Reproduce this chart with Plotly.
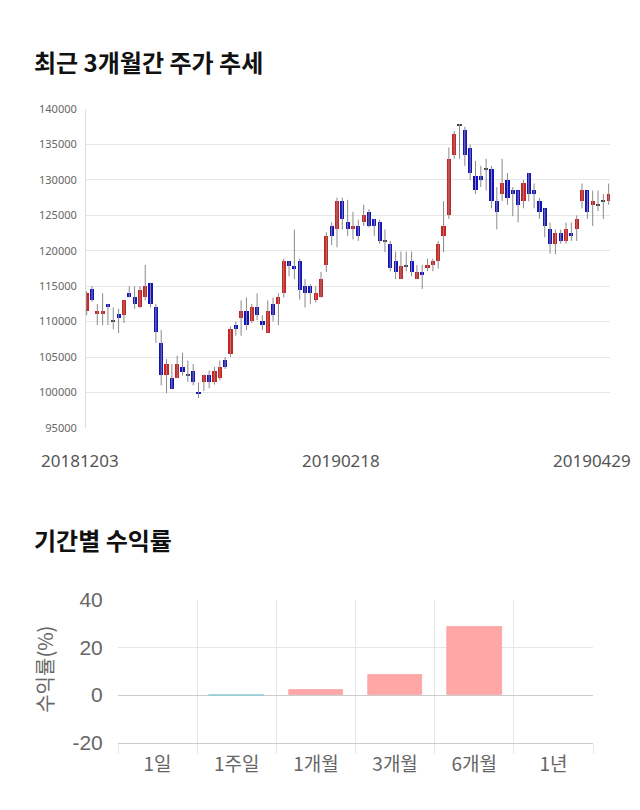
import plotly.graph_objects as go

# ---------------- data: daily candles ----------------
opens = [111500, 114600, 111000, 111000, 112500, 110000, 111000, 110900, 114000, 113500,
         112000, 113500, 115500, 112000, 107000, 102500, 102000, 102000, 103500, 102500,
         103000, 100100, 101400, 102500, 101500, 102000, 104500, 105400, 109500, 110500,
         111500, 110000, 112000, 110000, 108400, 112500, 112400, 114000, 118500, 117900,
         118500, 115000, 115000, 113000, 113400, 118000, 123500, 123000, 127000, 124000,
         123000, 123500, 124000, 125500, 124500, 124000, 121400, 121000, 118500, 116000,
         117900, 118500, 116000, 117000, 117500, 118000, 118500, 122000, 125000, 133500,
         137700, 137000, 134500, 130500, 130500, 131500, 131500, 127000, 128000, 130000,
         128500, 128500, 127000, 131000, 128500, 127000, 126000, 123000, 121000, 122500,
         121400, 122500, 123000, 127000, 128500, 126500, 126500, 127000, 127000]
highs = [114300, 115000, 112500, 114000, 112500, 112000, 111800, 113000, 115000, 115000,
         115000, 118000, 115500, 112500, 108800, 104700, 104000, 105200, 105600, 104500,
         104000, 101400, 102500, 103100, 103600, 104500, 105000, 109300, 110000, 113000,
         113400, 112500, 114000, 110900, 113000, 113400, 114000, 118900, 118500, 123000,
         118900, 116000, 115300, 115000, 117000, 122600, 124000, 127500, 127500, 127200,
         125500, 124400, 126500, 125900, 124500, 124400, 123000, 121400, 119900, 119900,
         119900, 119900, 118000, 118000, 118900, 118900, 121400, 127000, 134600, 136900,
         137900, 137500, 135000, 132700, 132000, 133000, 132000, 129000, 133000, 131000,
         129000, 128500, 130000, 131000, 129500, 127500, 126000, 124000, 123000, 123000,
         124000, 124000, 125000, 129500, 128500, 128500, 128500, 128000, 129500]
lows = [110900, 112800, 109500, 109500, 109500, 108900, 108400, 109800, 113400, 111800,
        111900, 113000, 112000, 107000, 101000, 99900, 100500, 102000, 102400, 101500,
        101000, 99200, 100200, 100600, 101100, 101700, 103300, 105000, 108000, 108000,
        108800, 109800, 110200, 108800, 108400, 110000, 109500, 113400, 116400, 116000,
        113100, 112000, 112500, 112700, 113400, 117000, 120800, 120500, 123000, 122100,
        121600, 121400, 123500, 123300, 122100, 121000, 119800, 117100, 116000, 116000,
        117100, 116400, 116000, 114600, 117100, 117100, 117500, 119800, 124500, 133000,
        133000, 132000, 130000, 128000, 129000, 128500, 126000, 123000, 127000, 126500,
        124900, 124000, 126000, 127000, 126000, 124500, 121900, 119600, 119500, 121000,
        121000, 121400, 121400, 126000, 124500, 123500, 125600, 124500, 126500]
closes = [114000, 113000, 111500, 111500, 112000, 110000, 110500, 113000, 113500, 112500,
          114500, 115000, 112500, 108500, 102500, 104000, 100500, 104000, 102900, 102500,
          101400, 99800, 102500, 101400, 103000, 103500, 103500, 109000, 109000, 111500,
          109500, 112000, 110900, 109500, 111500, 110900, 113400, 118500, 117900, 117400,
          114400, 114000, 114000, 114000, 116000, 122000, 122000, 127000, 124500, 123000,
          123500, 122000, 125000, 123500, 123500, 121400, 121400, 117500, 117000, 117900,
          117900, 117000, 117000, 116500, 118000, 118500, 121000, 123500, 133000, 136500,
          137700, 133500, 131000, 128500, 130000, 131500, 127000, 125500, 129500, 127500,
          128000, 126500, 129500, 128000, 128000, 125500, 123500, 121000, 122500, 121400,
          123000, 122000, 124500, 128500, 125500, 127000, 126500, 127000, 128000]

date_labels = ["20181203", "20190218", "20190429"]
price_ticks = [140000, 135000, 130000, 125000, 120000, 115000, 110000, 105000, 100000, 95000]

# ---------------- data: period returns ----------------
periods = ["1일", "1주일", "1개월", "3개월", "6개월", "1년"]
returns = [None, -0.5, 2.0, 8.4, 28.7, None]
return_ticks = [-20, 0, 20, 40]

# ---------------- helpers ----------------
W, H = 640, 810
def px(x):
    return x / W
def py(y):
    return 1 - y / H

RED = "#d41f1f"
BLUE = "#1212c2"
DOJI = "#444444"

idx = list(range(len(opens)))

# wicks
wx, wy = [], []
for i, h, l in zip(idx, highs, lows):
    wx += [i, i, None]
    wy += [l, h, None]

# bodies
body_base, body_len, body_col = [], [], []
for o, c in zip(opens, closes):
    if c > o:
        body_col.append(RED)
        body_len.append(c - o)
        body_base.append(o)
    elif c < o:
        body_col.append(BLUE)
        body_len.append(o - c)
        body_base.append(c)
    else:
        body_col.append(DOJI)
        body_len.append(150)  # visible hairline for doji
        body_base.append(o - 75)

fig = go.Figure()
fig.add_trace(go.Scatter(x=wx, y=wy, mode="lines", line=dict(color="#8a8a8a", width=1),
                         xaxis="x", yaxis="y", hoverinfo="skip", showlegend=False))
fig.add_trace(go.Bar(x=idx, y=body_len, base=body_base, width=0.78,
                     marker=dict(color=body_col, line=dict(width=0)),
                     xaxis="x", yaxis="y", showlegend=False))

bar_cols = ["#ffa6a6" if (v is not None and v >= 0) else "#9fd3dc" for v in returns]
line_cols = ["#f59a9a" if (v is not None and v >= 0) else "#8cc8d2" for v in returns]
fig.add_trace(go.Bar(x=periods, y=returns, width=0.69,
                     marker=dict(color=bar_cols, line=dict(color=line_cols, width=0.6)),
                     xaxis="x2", yaxis="y2", showlegend=False))

grid = "#e6e6e6"
fig.update_layout(
    width=W, height=H,
    margin=dict(l=0, r=0, t=0, b=0),
    paper_bgcolor="white", plot_bgcolor="white",
    bargap=0,
    xaxis=dict(domain=[px(86), px(610)], range=[-0.12, 98.25], showgrid=False,
               zeroline=False, showticklabels=False, showline=False, fixedrange=True),
    yaxis=dict(domain=[py(428), py(100)], range=[95000, 140000], tickvals=price_ticks,
               ticktext=[str(v) for v in price_ticks],
               showgrid=True, gridcolor=grid, gridwidth=1, zeroline=False,
               showline=True, linecolor="#dddddd", linewidth=1,
               ticks="outside", ticklen=6, tickcolor="rgba(0,0,0,0)",
               tickfont=dict(family="Noto Sans", size=11, color="#666666")),
    xaxis2=dict(domain=[px(118), px(593)], type="category", tickson="boundaries",
                showgrid=True, gridcolor=grid, gridwidth=1,
                ticks="outside", ticklen=10, tickcolor=grid, ticklabelstandoff=5,
                showline=True, linecolor="#cccccc", linewidth=1,
                tickfont=dict(family="Noto Sans CJK KR", size=19, color="#666666"),
                anchor="y2"),
    yaxis2=dict(domain=[py(752), py(605)], range=[-20, 40], tickvals=return_ticks,
                ticktext=[str(v) for v in return_ticks],
                showgrid=True, gridcolor=grid, gridwidth=1,
                zeroline=True, zerolinecolor="#cccccc", zerolinewidth=1,
                ticks="outside", ticklen=10, tickcolor="rgba(0,0,0,0)",
                tickfont=dict(family="Liberation Sans", size=21, color="#666666"),
                anchor="x2"),
)

ann = []
ann.append(dict(text="<b>최근 3개월간 주가 추세</b>", x=px(32), y=py(51), xref="paper", yref="paper",
                xanchor="left", yanchor="middle", showarrow=False,
                font=dict(family="Noto Sans CJK KR", size=24, color="#111111")))
ann.append(dict(text="<b>기간별 수익률</b>", x=px(32), y=py(543), xref="paper", yref="paper",
                xanchor="left", yanchor="middle", showarrow=False,
                font=dict(family="Noto Sans CJK KR", size=24, color="#111111")))
for lab, xc in zip(date_labels, [80, 341, 592]):
    ann.append(dict(text=lab, x=px(xc), y=py(462), xref="paper", yref="paper",
                    xanchor="center", yanchor="middle", showarrow=False,
                    font=dict(family="Noto Sans", size=17, color="#555555")))
ann.append(dict(text="수익률(%)", x=px(45), y=py(677), xref="paper", yref="paper",
                xanchor="center", yanchor="middle", showarrow=False, textangle=-90,
                font=dict(family="Noto Sans CJK KR", size=20, color="#666666")))
fig.update_layout(annotations=ann)

fig.write_html("out.html")
